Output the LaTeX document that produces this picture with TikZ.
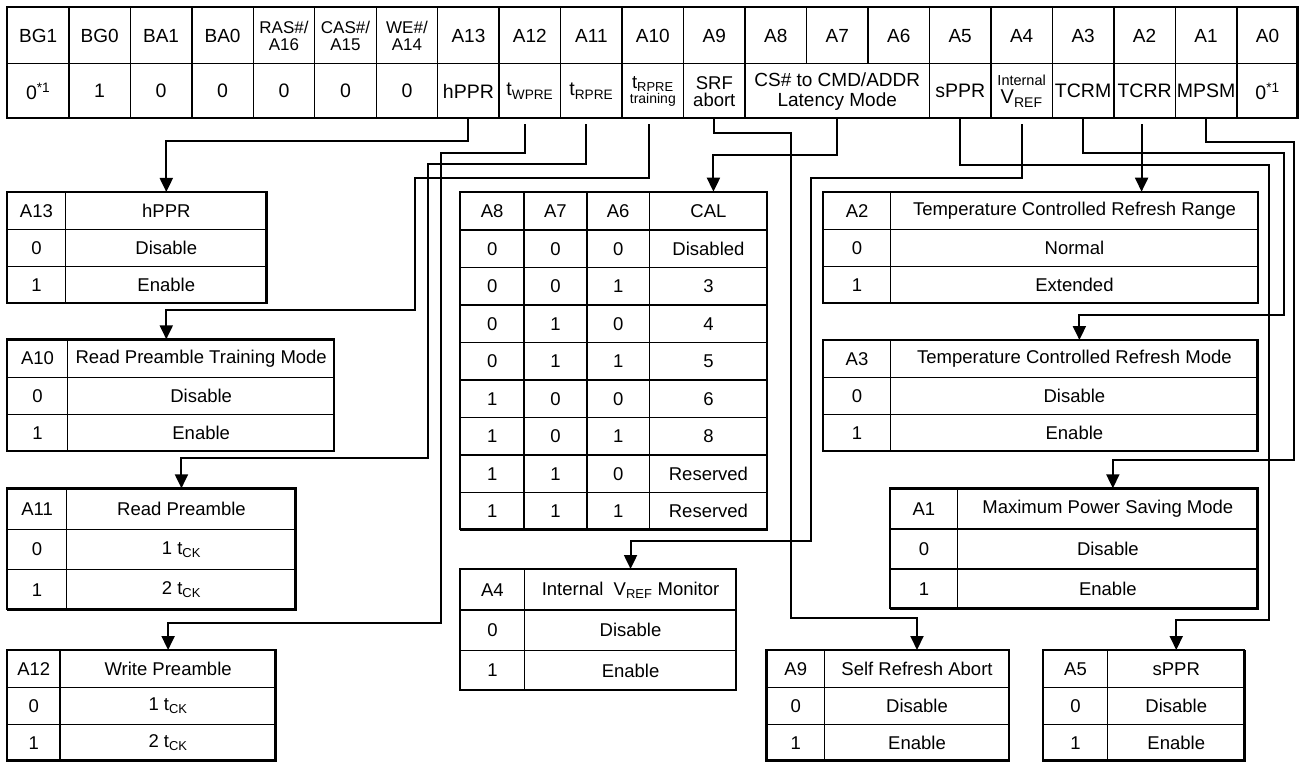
\documentclass[tikz,border=0pt]{standalone}
\usepackage{fontspec}
\setmainfont{Liberation Sans}
\usetikzlibrary{arrows.meta}

\tikzset{
  cell/.style={draw, line width=1.4pt, inner sep=0pt, anchor=north west, align=center,
    font=\fontsize{18.5}{21}\selectfont},
  regcell/.style={minimum width=61.47pt, minimum height=56pt, font=\fontsize{19}{21}\selectfont},
  valcell/.style={minimum width=61.47pt, minimum height=55pt, font=\fontsize{19.5}{21}\selectfont},
  tabframe/.style={draw, line width=2.3pt},
  link/.style={line width=2pt, -{Triangle[length=14pt,width=13pt]}},
}

% one field table: name, x0, x1, x2, top, row height, bit, title, rows
\newcommand{\fieldtable}[9]{%
  \node[cell, minimum width={#3-#2}, minimum height=#6] (#1b) at (#2,#5) {#7};
  \node[cell, minimum width={#4-#3}, minimum height=#6] (#1d) at (#3,#5) {#8};
  \foreach \val/\txt [count=\rowi] in {#9} {
    \node[cell, minimum width={#3-#2}, minimum height=#6] at ({#2},{#5+\rowi*#6}) {\val};
    \node[cell, minimum width={#4-#3}, minimum height=#6] at ({#3},{#5+\rowi*#6}) {\txt};
  }
  \draw[tabframe] (#2,#5) rectangle (#4,{#5+3*#6});
}

\begin{document}
\begin{tikzpicture}[x=1pt, y=-1pt]
\useasboundingbox (0,0) rectangle (1299,762);

%register bit names
\foreach \lab [count=\i from 0] in {BG1,BG0,BA1,BA0}
  \node[cell, regcell] (h\i) at ({6.7+61.47*\i},7) {\lab};
\foreach \i/\pin/\bit in {4/RAS/16,5/CAS/15,6/WE/14}
  \node[cell, regcell, font=\fontsize{17}{16.5}\selectfont] (h\i) at ({6.7+61.47*\i},7) {\pin\#/\\A\bit};
\foreach \lab [count=\i from 7] in {A13,A12,A11,A10,A9,A8,A7,A6,A5,A4,A3,A2,A1,A0}
  \node[cell, regcell] (h\i) at ({6.7+61.47*\i},7) {\lab};

%register values
\foreach \lab [count=\i from 0] in {0\textsuperscript{*1},1,0,0,0,0,0,hPPR,t\textsubscript{WPRE},t\textsubscript{RPRE}}
  \node[cell, valcell] (v\i) at ({6.7+61.47*\i},63) {\lab};
\node[cell, valcell, font=\fontsize{18.5}{15}\selectfont] (v10) at ({6.7+61.47*10},63)
  {t\textsubscript{RPRE}\\{\fontsize{14}{15}\selectfont training}};
\node[cell, valcell, font=\fontsize{18.5}{17}\selectfont] (v11) at ({6.7+61.47*11},63) {SRF\\abort};
\node[cell, valcell, minimum width=3*61.47, font=\fontsize{19}{20}\selectfont] (v12) at ({6.7+61.47*12},63)
  {CS\# to CMD/ADDR\\Latency Mode};
\node[cell, valcell, font=\fontsize{20}{18}\selectfont] (v16) at ({6.7+61.47*16},63)
  {{\fontsize{14.5}{14}\selectfont Internal}\\V\textsubscript{REF}};
\foreach \i/\lab in {15/sPPR,17/TCRM,18/TCRR,19/MPSM,20/0\textsuperscript{*1}}
  \node[cell, valcell] (v\i) at ({6.7+61.47*\i},63) {\lab};
\draw[tabframe] (6.7,7) rectangle (1297.5,118);

%field tables
\fieldtable{t13}{6.7}{64.7}{266.5}{192}{37}{A13}{hPPR}{0/Disable,1/Enable}
\fieldtable{t10}{6.7}{67}{334}{339.3}{37.2}{A10}{Read Preamble Training Mode}{0/Disable,1/Enable}
\fieldtable{t11}{6.7}{66}{295.5}{488.3}{40.3}{A11}{Read Preamble}{0/1 t\textsubscript{CK},1/2 t\textsubscript{CK}}
\fieldtable{t12}{6.7}{59.4}{275.4}{650}{36.8}{A12}{Write Preamble}{0/1 t\textsubscript{CK},1/2 t\textsubscript{CK}}
\fieldtable{t4}{459.8}{523.7}{736}{569}{40.3}{A4}{Internal\ \ V\textsubscript{REF} Monitor}{0/Disable,1/Enable}
\fieldtable{t2}{823}{889.8}{1257.7}{191.7}{37}{A2}{Temperature Controlled Refresh Range}{0/Normal,1/Extended}
\fieldtable{t3}{822.9}{889.8}{1257.6}{340}{37}{A3}{Temperature Controlled Refresh Mode}{0/Disable,1/Enable}
\fieldtable{t1}{889.8}{956.7}{1257.6}{488.3}{40}{A1}{Maximum Power Saving Mode}{0/Disable,1/Enable}
\fieldtable{t9}{766.3}{823.8}{1008.8}{650}{36.8}{A9}{Self Refresh Abort}{0/Disable,1/Enable}
\fieldtable{t5}{1042.7}{1106.9}{1244.2}{650}{36.8}{A5}{sPPR}{0/Disable,1/Enable}

%CAL table
\node[cell, minimum width=63.4, minimum height=37.5] (cal8) at (459.8,191.7) {A8};
\node[cell, minimum width=63, minimum height=37.5] (cal7) at (523.2,191.7) {A7};
\node[cell, minimum width=62.5, minimum height=37.5] (cal6) at (586.2,191.7) {A6};
\node[cell, minimum width=118.1, minimum height=37.5] (cald) at (648.7,191.7) {CAL};
\foreach \ba/\bb/\bc/\lab [count=\rowi] in {0/0/0/Disabled,0/0/1/3,0/1/0/4,0/1/1/5,1/0/0/6,1/0/1/8,1/1/0/Reserved,1/1/1/Reserved} {
  \node[cell, minimum width=63.4, minimum height=37.5] at (459.8,{191.7+37.5*\rowi}) {\ba};
  \node[cell, minimum width=63, minimum height=37.5] at (523.2,{191.7+37.5*\rowi}) {\bb};
  \node[cell, minimum width=62.5, minimum height=37.5] at (586.2,{191.7+37.5*\rowi}) {\bc};
  \node[cell, minimum width=118.1, minimum height=37.5] at (648.7,{191.7+37.5*\rowi}) {\lab};
}
\draw[tabframe] (459.8,191.7) rectangle (766.8,529.2);

%connectors
\draw[link] (v7.south) -- ++(0,21.3) -| (t13d.north);
\draw[link] ([xshift=-5pt,yshift=-5pt]v8.south) |- (441,153.3) -- (441,623.3) -| (t12d.north);
\draw[link] ([xshift=-5pt,yshift=-5pt]v9.south) |- (427.7,164.3) -- (427.7,458) -| (t11d.north);
\draw[link] ([xshift=-4pt,yshift=-5pt]v10.south) |- (415,177.7) -- (415,310) -| (t13d.north |- t10d.north);
\draw[link] (v11.south) |- (790.9,133.3) -- (790.9,618.3) -| (t9d.north);
\draw[link] (v12.south) -- ++(0,35.3) -| ([xshift=5pt]cald.north);
\draw[link] ([yshift=-5pt]v16.south) |- (810.8,177.7) -- (810.8,541) -| (t4d.north);
\draw[link] (v15.south) |- (1269,165) -- (1269,620) -| (t5d.north);
\draw[link] (v17.south) |- (1283.6,152.7) -- (1283.6,315) -| ([xshift=5pt]t3d.north);
\draw[link] ([xshift=-3pt,yshift=-5pt]v18.south) -- ([xshift=-3pt]v18.south |- t2d.north);
\draw[link] (v19.south) |- (1294,141.7) -- (1294,460) -| ([xshift=5pt]t1d.north);
\end{tikzpicture}
\end{document}
